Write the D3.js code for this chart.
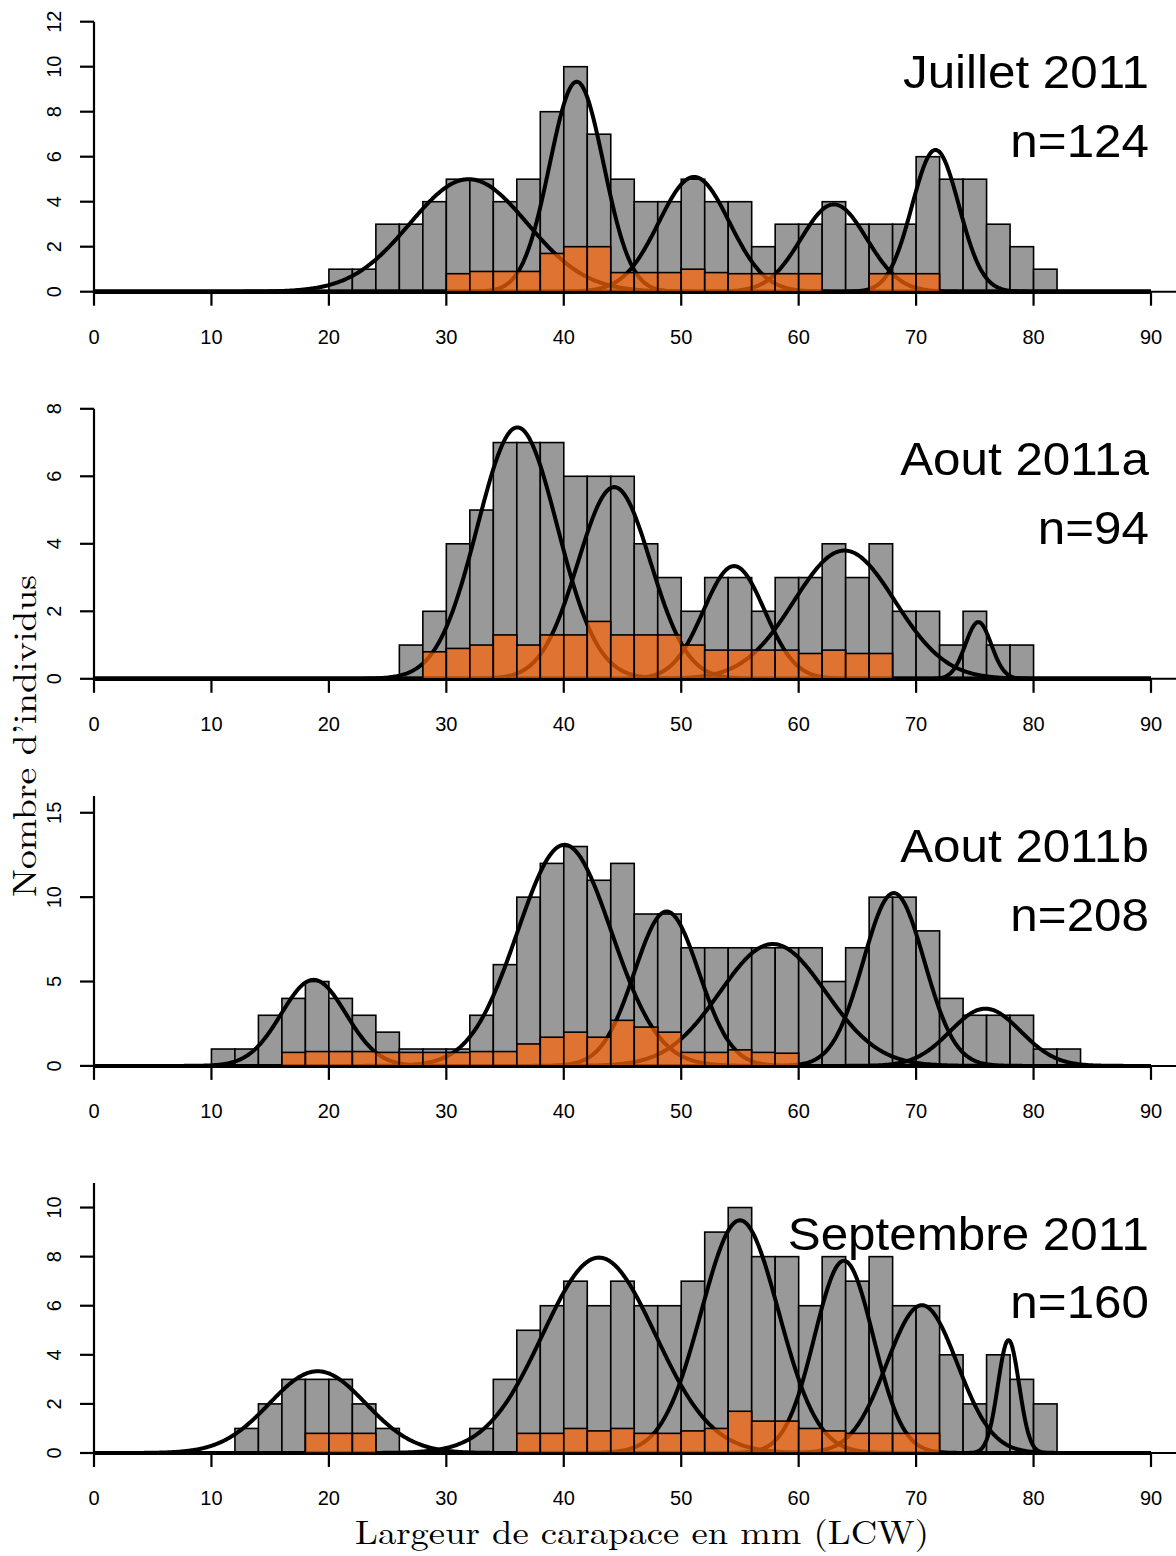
<!DOCTYPE html>
<html>
<head>
<meta charset="utf-8">
<script src="https://cdn.jsdelivr.net/npm/d3@7"></script>
<style>
  html, body { margin: 0; padding: 0; background: #fff; }
  svg { display: block; }
</style>
</head>
<body>
<script>
// ---------- DATA ----------
const panelTitles = ["Juillet 2011", "Aout 2011a", "Aout 2011b", "Septembre 2011"];
const panelN = ["n=124", "n=94", "n=208", "n=160"];
const yMax = [12, 8, 16, 11];
const yTicks = [[0, 2, 4, 6, 8, 10, 12], [0, 2, 4, 6, 8], [0, 5, 10, 15], [0, 2, 4, 6, 8, 10]];
const xTicks = [0, 10, 20, 30, 40, 50, 60, 70, 80, 90];
const binWidth = 2;

// grey histograms (all individuals), first bin lower edge + counts
const greyStart = [20, 26, 10, 12];
const greyJuillet = [1, 1, 3, 3, 4, 5, 5, 4, 5, 8, 10, 7, 5, 4, 4, 5, 4, 4, 2, 3, 3, 4, 3, 3, 3, 6, 5, 5, 3, 2, 1];
const greyAoutA = [1, 2, 4, 5, 7, 7, 7, 6, 6, 6, 4, 3, 2, 3, 3, 2, 3, 3, 4, 3, 4, 2, 2, 1, 2, 1, 1];
const greyAoutB = [1, 1, 3, 4, 5, 4, 3, 2, 1, 1, 1, 3, 6, 10, 12, 13, 11, 12, 9, 9, 7, 7, 7, 7, 7, 7, 5, 7, 10, 10, 8, 4, 3, 3, 3, 1, 1];
const greySept = [1, 2, 3, 3, 3, 2, 1, 0, 0, 0, 1, 3, 5, 6, 7, 6, 7, 6, 6, 7, 9, 10, 8, 8, 6, 8, 7, 8, 6, 6, 4, 2, 4, 3, 2];

// orange histograms (subset), first bin lower edge + values
const orangeStart = [30, 28, 16, 18];
const orangeJuillet = [0.8, 0.9, 0.9, 0.9, 1.7, 2.0, 2.0, 0.85, 0.85, 0.85, 1.0, 0.85, 0.8, 0.8, 0.8, 0.8, 0, 0, 0.8, 0.8, 0.8];
const orangeAoutA = [0.8, 0.9, 1.0, 1.3, 1.0, 1.3, 1.3, 1.7, 1.3, 1.3, 1.3, 1.0, 0.85, 0.85, 0.85, 0.85, 0.75, 0.85, 0.75, 0.75];
const orangeAoutB = [0.8, 0.85, 0.85, 0.85, 0.8, 0.8, 0.8, 0.8, 0.85, 0.85, 1.3, 1.7, 2.0, 1.7, 2.7, 2.3, 2.0, 0.8, 0.8, 0.95, 0.8, 0.75];
const orangeSept = [0.8, 0.8, 0.8, 0, 0, 0, 0, 0, 0, 0.8, 0.8, 1.0, 0.9, 1.0, 0.8, 0.8, 0.9, 1.0, 1.7, 1.3, 1.3, 1.0, 0.9, 0.8, 0.8, 0.8, 0.8];

// fitted normal components: mean, sd, peak height (counts per bin)
const compMeanJuillet = [31.9, 41.1, 51.1, 63.0, 71.65];
const compSdJuillet   = [5.0, 2.3, 3.0, 2.8, 2.0];
const compPeakJuillet = [5.0, 9.33, 5.1, 3.88, 6.3];
const compMeanAoutA = [36.05, 44.3, 54.5, 63.9, 75.3];
const compSdAoutA   = [3.4, 3.1, 2.6, 4.3, 1.1];
const compPeakAoutA = [7.45, 5.68, 3.34, 3.8, 1.68];
const compMeanAoutB = [18.7, 40.06, 48.76, 57.8, 68.1, 75.9];
const compSdAoutB   = [2.75, 4.0, 2.75, 4.5, 2.6, 3.0];
const compPeakAoutB = [5.1, 13.1, 9.15, 7.22, 10.24, 3.39];
const compMeanSept = [19.04, 43.0, 55.0, 63.85, 70.5, 77.87];
const compSdSept   = [4.1, 4.8, 3.3, 2.5, 3.0, 0.9];
const compPeakSept = [3.33, 7.96, 9.48, 7.83, 6.02, 4.6];

const greyData = [greyJuillet, greyAoutA, greyAoutB, greySept];
const orangeData = [orangeJuillet, orangeAoutA, orangeAoutB, orangeSept];
const compMeans = [compMeanJuillet, compMeanAoutA, compMeanAoutB, compMeanSept];
const compSds = [compSdJuillet, compSdAoutA, compSdAoutB, compSdSept];
const compPeaks = [compPeakJuillet, compPeakAoutA, compPeakAoutB, compPeakSept];

// ---------- LAYOUT ----------
const W = 1176, H = 1556;
const plotLeft = 94, plotRight = 1151;
const panelTop0 = 21.7, panelStep = 387.1, panelH = 270;

const svg = d3.select("body").append("svg").attr("width", W).attr("height", H);

const x = d3.scaleLinear().domain([0, 90]).range([plotLeft, plotRight]);
const sampleXs = d3.range(0, 90.0001, 0.1);

const sansFont = "'Liberation Sans', Arial, Helvetica, sans-serif";
const serifFont = "'Latin Modern Roman', 'CMU Serif', 'DejaVu Serif', 'Liberation Serif', serif";

function widen(sel, factor) {
  const len = sel.node().getComputedTextLength();
  sel.attr("textLength", len * factor).attr("lengthAdjust", "spacingAndGlyphs");
}

greyData.forEach((counts, p) => {
  const top = panelTop0 + p * panelStep;
  const base = top + panelH;
  const y = d3.scaleLinear().domain([0, yMax[p]]).range([base, top]);
  const g = svg.append("g");

  const greyBins = counts.map((c, i) => ({ x0: greyStart[p] + i * binWidth, v: c })).filter(d => d.v > 0);
  const orangeBins = orangeData[p].map((c, i) => ({ x0: orangeStart[p] + i * binWidth, v: c })).filter(d => d.v > 0);

  // baseline line
  g.append("line")
    .attr("x1", x(0)).attr("x2", W).attr("y1", base).attr("y2", base)
    .attr("stroke", "#000").attr("stroke-width", 2);

  // grey bars
  g.selectAll("rect.grey").data(greyBins).enter().append("rect")
    .attr("class", "grey")
    .attr("x", d => x(d.x0)).attr("width", d => x(d.x0 + binWidth) - x(d.x0))
    .attr("y", d => y(d.v)).attr("height", d => base - y(d.v))
    .attr("fill", "#999999").attr("stroke", "#000").attr("stroke-width", 1.6);

  // component curves
  const line = d3.line().x(d => x(d[0])).y(d => y(d[1]));
  compMeans[p].forEach((m, k) => {
    const s = compSds[p][k], h = compPeaks[p][k];
    const pts = sampleXs.map(xx => [xx, h * Math.exp(-((xx - m) * (xx - m)) / (2 * s * s))]);
    g.append("path").datum(pts).attr("d", line)
      .attr("fill", "none").attr("stroke", "#000").attr("stroke-width", 4)
      .attr("stroke-linejoin", "round");
  });

  // orange bars (semi-transparent, over the curves)
  g.selectAll("rect.orange").data(orangeBins).enter().append("rect")
    .attr("class", "orange")
    .attr("x", d => x(d.x0)).attr("width", d => x(d.x0 + binWidth) - x(d.x0))
    .attr("y", d => y(d.v)).attr("height", d => base - y(d.v))
    .attr("fill", "rgb(250,100,10)").attr("fill-opacity", 0.72)
    .attr("stroke", "#000").attr("stroke-width", 1.6);

  // y axis
  g.append("line")
    .attr("x1", plotLeft).attr("x2", plotLeft).attr("y1", base).attr("y2", y(yMax[p]))
    .attr("stroke", "#000").attr("stroke-width", 2.2);
  yTicks[p].forEach(t => {
    g.append("line").attr("x1", plotLeft - 14).attr("x2", plotLeft)
      .attr("y1", y(t)).attr("y2", y(t)).attr("stroke", "#000").attr("stroke-width", 2.2);
    g.append("text").attr("transform", `translate(61,${y(t)}) rotate(-90)`)
      .attr("text-anchor", "middle").attr("font-family", sansFont).attr("font-size", 20)
      .text(t);
  });

  // x axis ticks
  xTicks.forEach(t => {
    g.append("line").attr("x1", x(t)).attr("x2", x(t))
      .attr("y1", base).attr("y2", base + 14).attr("stroke", "#000").attr("stroke-width", 2.2);
    g.append("text").attr("x", x(t)).attr("y", base + 52)
      .attr("text-anchor", "middle").attr("font-family", sansFont).attr("font-size", 20)
      .text(t);
  });

  // titles
  const t1 = g.append("text").attr("x", 1149).attr("y", top + 66.5)
    .attr("text-anchor", "end").attr("font-family", sansFont).attr("font-size", 47)
    .text(panelTitles[p]);
  widen(t1, 1.05);
  const t2 = g.append("text").attr("x", 1149).attr("y", top + 135)
    .attr("text-anchor", "end").attr("font-family", sansFont).attr("font-size", 47)
    .text(panelN[p]);
  widen(t2, 1.05);
});

// axis titles
svg.append("text").attr("x", 642).attr("y", 1544)
  .attr("text-anchor", "middle").attr("font-family", serifFont).attr("font-size", 33)
  .attr("textLength", 574).attr("lengthAdjust", "spacingAndGlyphs")
  .text("Largeur de carapace en mm (LCW)");
svg.append("text").attr("transform", "translate(36,736) rotate(-90)")
  .attr("text-anchor", "middle").attr("font-family", serifFont).attr("font-size", 33)
  .attr("textLength", 322).attr("lengthAdjust", "spacingAndGlyphs")
  .text("Nombre d\u2019individus");
</script>
</body>
</html>
